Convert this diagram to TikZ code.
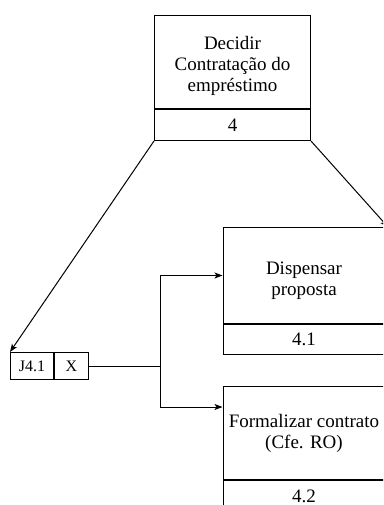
\documentclass[tikz,border=0pt]{standalone}
\usepackage{fontspec}
\setmainfont{Liberation Serif}
\usetikzlibrary{arrows.meta,calc}
\begin{document}
\begin{tikzpicture}[x=1pt,y=-1pt,
  box/.style={draw, line width=1pt, rectangle, inner sep=0pt, anchor=north west, align=center, font=\fontsize{19}{21}\selectfont},
  jbox/.style={draw, line width=1pt, rectangle, inner sep=0pt, anchor=north west, font=\fontsize{16}{18}\selectfont},
  conn/.style={line width=1pt},
  arr/.style={conn, -{Stealth[length=8pt,width=6pt,inset=2pt]}}]
\useasboundingbox (0,0) rectangle (383,505);
\clip (0,0) rectangle (383,505);
\fill[white] (0,0) rectangle (383,505);
% top process
\node[box, minimum width=156pt, minimum height=93pt] (dt) at (154,15) {\rule{0pt}{21pt}Decidir\\Contratação do\\empréstimo};
\node[box, minimum width=156pt, minimum height=31pt] (dn) at (dt.south west) {4};
% 4.1
\node[box, minimum width=162pt, minimum height=96pt] (at) at (222.5,227) {\rule{0pt}{23pt}Dispensar\\proposta};
\node[box, minimum width=162pt, minimum height=30pt] (an) at (at.south west) {4.1};
% 4.2
\node[box, minimum width=162pt, minimum height=93pt] (bt) at (222.5,386) {Formalizar contrato\\(Cfe. RO)};
\node[box, minimum width=162pt, minimum height=31pt] (bn) at (bt.south west) {4.2};
% junction
\node[jbox, minimum width=43pt, minimum height=27pt] (j1) at (10,352) {J4.1};
\node[jbox, minimum width=34pt, minimum height=27pt] (jx) at (j1.north east) {X};
% connectors
\coordinate (fk) at (160,0);
\coordinate (bin) at ($(bt.north west)+(0,21)$);
\coordinate (off) at (388,227);
\draw[arr] (dn.south west) -- (j1.north west);
\draw[arr] (dn.south east) -- (off);
\draw[conn] (jx.east) -- (jx.east -| fk);
\draw[conn] (fk |- at.west) -- (fk |- bin);
\draw[arr] (fk |- at.west) -- (at.west);
\draw[arr] (fk |- bin) -- (bin);
\end{tikzpicture}
\end{document}
